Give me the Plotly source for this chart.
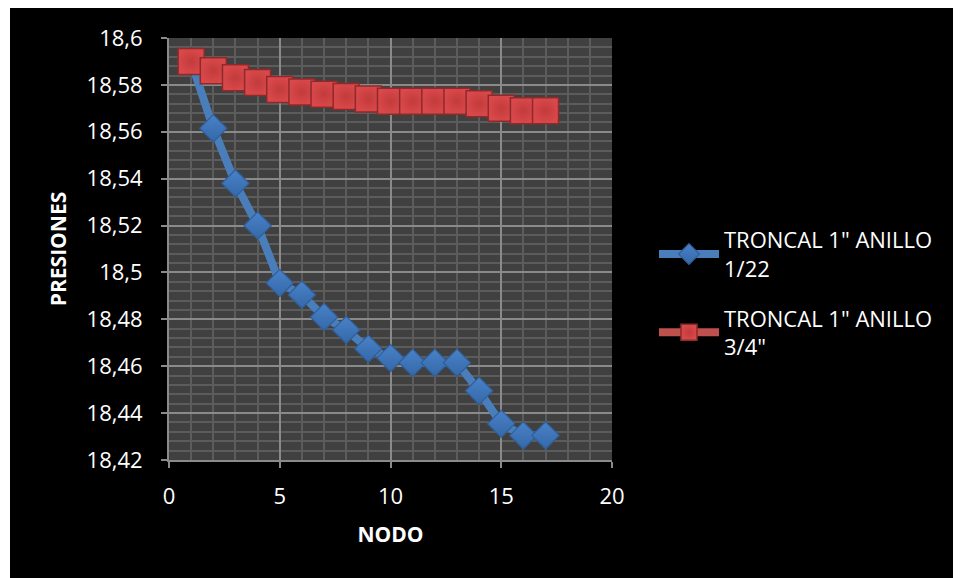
import plotly.graph_objects as go

nodo = list(range(1, 18))
troncal_1_22 = [18.590, 18.5615, 18.538, 18.520, 18.4955, 18.4905, 18.481, 18.4755,
                18.4675, 18.4635, 18.4615, 18.4615, 18.4615, 18.4495, 18.4355, 18.4305, 18.4305]
troncal_3_4 = [18.590, 18.586, 18.583, 18.581, 18.578, 18.577, 18.576, 18.575,
               18.574, 18.573, 18.573, 18.573, 18.573, 18.572, 18.570, 18.569, 18.569]

x_tick_vals = [0, 5, 10, 15, 20]
x_tick_text = ["0", "5", "10", "15", "20"]
y_tick_vals = [18.42, 18.44, 18.46, 18.48, 18.50, 18.52, 18.54, 18.56, 18.58, 18.60]
y_tick_text = ["18,42", "18,44", "18,46", "18,48", "18,5", "18,52", "18,54", "18,56", "18,58", "18,6"]

name_1 = 'TRONCAL 1" ANILLO<br>1/22'
name_2 = 'TRONCAL 1" ANILLO<br>3/4"'

FONT = "Open Sans"
W, H = 961, 578
# figure-pixel coordinates (page adds an 8px body margin)
L, R, T, B = 161, 604, 30, 452

def px_to_paper_x(px):
    return (px - L) / (R - L)

def px_to_paper_y(py):
    return (B - py) / (B - T)

fig = go.Figure()
fig.add_trace(go.Scatter(
    x=nodo, y=troncal_1_22, name=name_1, mode="lines+markers", legendgroup="a",
    line=dict(color="#4A7EBB", width=8),
    marker=dict(symbol="diamond", size=21, color="#4A82C8",
                line=dict(color="#2F5F9A", width=1.2),
                gradient=dict(type="vertical", color="#3468A8")),
))
fig.add_trace(go.Scatter(
    x=nodo, y=troncal_3_4, name=name_2, mode="lines+markers", legendgroup="b",
    line=dict(color="#C0504D", width=8),
    marker=dict(symbol="square", size=26, color="#D9484A",
                line=dict(color="#8E2B2A", width=1.5),
                gradient=dict(type="radial", color="#C23B3B")),
))

fig.update_layout(
    width=W, height=H,
    margin=dict(l=L, r=W - R, t=T, b=H - B, pad=0),
    paper_bgcolor="#000000",
    plot_bgcolor="#404040",
    font=dict(family=FONT, color="#FFFFFF", size=22),
    showlegend=True,
    legend=dict(
        x=px_to_paper_x(646), y=px_to_paper_y(211), xanchor="left", yanchor="top",
        bgcolor="rgba(0,0,0,0)", font=dict(size=22, color="#FFFFFF"),
        itemwidth=60, tracegroupgap=18,
    ),
    shapes=[
        dict(type="rect", xref="paper", yref="paper", layer="below",
             x0=px_to_paper_x(0), x1=px_to_paper_x(2),
             y0=px_to_paper_y(H), y1=px_to_paper_y(0),
             fillcolor="#FFFFFF", line=dict(width=0)),
    ],
)

fig.update_xaxes(
    range=[0, 20], tickvals=x_tick_vals, ticktext=x_tick_text,
    showgrid=True, gridcolor="#8A8A8A", gridwidth=2,
    minor=dict(dtick=1, showgrid=True, gridcolor="#5C5C5C", gridwidth=1.5),
    showline=True, linecolor="#8A8A8A", linewidth=2,
    ticks="outside", ticklen=6, tickcolor="#8A8A8A", tickwidth=2,
    tickfont=dict(size=22, color="#FFFFFF"), ticklabelstandoff=10,
    zeroline=False,
    title=dict(text="<b>NODO</b>", font=dict(size=21, color="#FFFFFF"), standoff=18),
)
fig.update_yaxes(
    range=[18.42, 18.6], tickvals=y_tick_vals, ticktext=y_tick_text,
    showgrid=True, gridcolor="#8A8A8A", gridwidth=2,
    minor=dict(dtick=0.004, tick0=18.42, showgrid=True, gridcolor="#5C5C5C", gridwidth=1.5),
    showline=True, linecolor="#8A8A8A", linewidth=2,
    ticks="outside", ticklen=6, tickcolor="#8A8A8A", tickwidth=2,
    tickfont=dict(size=22, color="#FFFFFF"), ticklabelstandoff=14,
    zeroline=False,
    title=dict(text="<b>PRESIONES</b>", font=dict(size=21, color="#FFFFFF"), standoff=14),
)

fig.write_html("out.html")
